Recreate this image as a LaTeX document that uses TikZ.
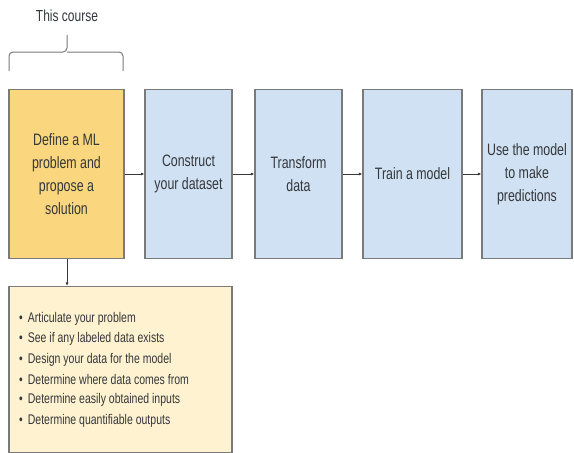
\documentclass[tikz,border=0pt]{standalone}
\usepackage{fontspec}
\setmainfont[FakeStretch=0.75]{Liberation Sans}
\usetikzlibrary{arrows.meta}

\definecolor{stagefill}{HTML}{FAD67F}
\definecolor{stepfill}{HTML}{CFE1F3}
\definecolor{notefill}{HTML}{FEF2D0}
\definecolor{edgegray}{HTML}{7A7A7A}
\definecolor{inkgray}{HTML}{35373B}

\tikzset{
  stage/.style={draw=edgegray, line width=1.2pt, fill=stepfill, minimum height=169pt,
                align=center, text=inkgray, inner sep=2pt,
                font=\fontsize{16.5}{23}\selectfont},
  flow/.style={draw=inkgray, line width=0.9pt, -{Latex[length=3.5pt,width=3pt]}}
}

\begin{document}
\begin{tikzpicture}[x=1pt, y=-1pt]
    \useasboundingbox (0,0) rectangle (574,453);

    % Course label and bracket
    \node[text=inkgray, font=\fontsize{16}{18}\selectfont] (course) at (67,16) {This course};
    \coordinate (bl) at (9,71);
    \coordinate (br) at (123,71);
    \coordinate (tip) at (67,35);
    \draw[edgegray, line width=1pt, rounded corners=4pt]
      (bl) -- (9,52) -- (67,52) -- (tip)
      (br) -- (123,52) -- (67,52);

    % Pipeline stages
    \node[stage, fill=stagefill, minimum width=115pt] (s1) at (66.5,174)
      {Define a ML\\problem and\\propose a\\solution};
    \node[stage, minimum width=87pt] (s2) at (188.5,174) {Construct\\your dataset};
    \node[stage, minimum width=87pt] (s3) at (298.5,174) {Transform\\data};
    \node[stage, minimum width=99pt] (s4) at (412.5,174) {Train a model};
    \node[stage, minimum width=90pt] (s5) at (527,174) {Use the model\\to make\\predictions};

    % Connections
    \foreach \i/\j in {1/2, 2/3, 3/4, 4/5} {
        \draw[flow] (s\i) -- (s\j);
    }

    % Details for the first stage
    \node[draw=edgegray, line width=1.2pt, fill=notefill, minimum width=223pt,
          minimum height=166pt, inner sep=0pt] (notes) at (120.5,369.5) {};
    \draw[flow] (s1.south -| tip) -- (notes.north -| tip);

    \foreach \t [count=\i from 0] in {Articulate your problem,
        See if any labeled data exists,
        Design your data for the model,
        Determine where data comes from,
        Determine easily obtained inputs,
        Determine quantifiable outputs} {
      \node[anchor=west, inner sep=0pt, text=inkgray, font=\fontsize{14}{16}\selectfont]
        (item\i) at (19, {319+20.3*\i}) {\textbullet\hspace{5pt}\t};
    }
  \end{tikzpicture}
\end{document}
